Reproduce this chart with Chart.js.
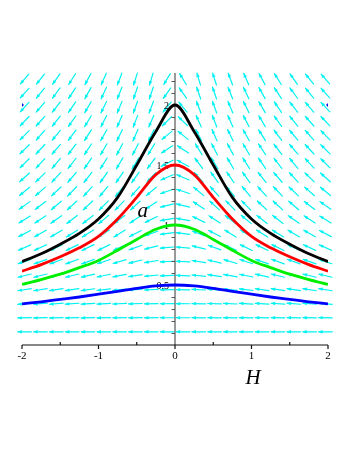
<!DOCTYPE html>
<html>
<head>
<meta charset="utf-8">
<script src="https://cdn.jsdelivr.net/npm/chart.js@4.4.0/dist/chart.umd.min.js"></script>
<style>
html,body{margin:0;padding:0;background:#fff;}
canvas{display:block;}
</style>
</head>
<body>
<canvas id="c" width="357" height="462"></canvas>
<script>
// ---- curve data ----
const hValues = [-2,-1.75,-1.5,-1.25,-1,-0.75,-0.5,-0.25,0,0.25,0.5,0.75,1,1.25,1.5,1.75,2];
const curveBlack = [0.695,0.76,0.84,0.93,1.05,1.23,1.50,1.78,2.0,1.78,1.50,1.23,1.05,0.93,0.84,0.76,0.695];
const curveRed   = [0.615,0.67,0.735,0.81,0.905,1.05,1.23,1.42,1.5,1.42,1.23,1.05,0.905,0.81,0.735,0.67,0.615];
const curveGreen = [0.505,0.545,0.59,0.645,0.705,0.79,0.88,0.965,1.0,0.965,0.88,0.79,0.705,0.645,0.59,0.545,0.505];
const curveBlue  = [0.343,0.36,0.38,0.40,0.423,0.447,0.472,0.492,0.5,0.492,0.472,0.447,0.423,0.40,0.38,0.36,0.343];
const markerH = [-2, 2];
const markerA = [2.0, 2.0];

// ---- direction field grid ----
const fieldH = [-1.966,-1.759,-1.552,-1.345,-1.138,-0.931,-0.724,-0.517,-0.310,-0.104,
                0.104,0.310,0.517,0.724,0.931,1.138,1.345,1.552,1.759,1.966];
const fieldA = [0.110,0.227,0.344,0.461,0.578,0.695,0.812,0.929,1.046,1.163,
                1.280,1.397,1.514,1.631,1.748,1.865,1.982,2.099,2.216];
// on-screen tilt (degrees) for the columns H = 0.104 ... 1.966 (mirrored for H < 0), one row per fieldA
const fieldTiltDeg = [
  [0,0,0,0,0,0,0,0,0,0],
  [0,0.4,0.6,0.9,1.1,1.3,1.5,1.7,1.8,1.9],
  [0.4,1.3,2.1,2.8,3.4,4,4.4,4.8,5.1,5.4],
  [1,3,4.7,6.2,7.5,8.4,9.1,9.6,9.8,10],
  [2,6,9,11,13,14,15,15,15,15],
  [3,10,15,18,20,21,22,22,21,20],
  [5,15,22,26,28,28,28,28,27,26],
  [8,22,29,34,35,35,34,33,32,30],
  [11,28,36,40,42,41,40,38,36,34],
  [15,36,45,48,48,46,45,43,40,38],
  [20,43,51,53,53,51,49,46,44,42],
  [25,50,57,58,57,55,52,50,47,45],
  [30,56,61,62,60,58,55,53,50,48],
  [36,61,65,64,62,59,55,52,50,47],
  [42,65,68,66,63,60,56,53,51,48],
  [47,68,71,68,65,61,57,54,51,49],
  [53,71,72,69,66,62,58,55,52,50],
  [57,73,73,70,67,63,59,56,53,51],
  [61,75,74,71,68,64,60,57,54,52]
];

const xTicks = [-2,-1,0,1,2];
const xTickLabels = ["-2","-1","0","1","2"];
const xMinorTicks = [-1.5,-0.5,0.5,1.5];
const yTicks = [0.5,1,1.5,2];
const yTickLabels = ["0.5","1","1.5","2"];
const yMinorTicks = [0.1,0.2,0.3,0.4,0.6,0.7,0.8,0.9,1.1,1.2,1.3,1.4,1.6,1.7,1.8,1.9,2.1,2.2];

function pts(ys){ return hValues.map((h,i)=>({x:h,y:ys[i]})); }

const fieldPlugin = {
  id:'field',
  beforeDatasetsDraw(chart){
    const ctx = chart.ctx, xs = chart.scales.x, ys = chart.scales.y;
    ctx.save();
    // arrows
    ctx.strokeStyle = '#00f2f2';
    ctx.fillStyle = '#00f2f2';
    ctx.lineWidth = 1.2;
    ctx.lineCap = 'round';
    for (let j=0;j<fieldA.length;j++){
      for (let i=0;i<fieldH.length;i++){
        const h = fieldH[i];
        const col = h>0 ? i-10 : 9-i;
        const th = fieldTiltDeg[j][col]*Math.PI/180;
        const cx = xs.getPixelForValue(h), cy = ys.getPixelForValue(fieldA[j]);
        const sy = h>0 ? -1 : 1;
        const dx = -6.8*Math.cos(th), dy = sy*6.2*Math.sin(th);
        const tx = cx-dx, ty = cy-dy, hx = cx+dx, hy = cy+dy;
        ctx.beginPath(); ctx.moveTo(tx,ty); ctx.lineTo(hx,hy); ctx.stroke();
        const L = Math.hypot(dx,dy), ux = dx/L, uy = dy/L;
        ctx.beginPath();
        ctx.moveTo(hx+ux*0.4,hy+uy*0.4);
        ctx.lineTo(hx-ux*4-uy*1.7, hy-uy*4+ux*1.7);
        ctx.lineTo(hx-ux*4+uy*1.7, hy-uy*4-ux*1.7);
        ctx.closePath(); ctx.fill();
      }
    }
    // axes
    const x0 = xs.getPixelForValue(0), y0 = ys.getPixelForValue(0);
    const xl = xs.getPixelForValue(-2), xr = xs.getPixelForValue(2);
    const yt = ys.getPixelForValue(2.25);
    ctx.lineCap = 'butt';
    ctx.strokeStyle = '#555';
    ctx.lineWidth = 1.2;
    ctx.beginPath(); ctx.moveTo(x0, y0); ctx.lineTo(x0, yt-2); ctx.stroke();
    ctx.beginPath();
    yMinorTicks.concat(yTicks).forEach(v=>{
      const py = Math.round(ys.getPixelForValue(v))+0.5;
      ctx.moveTo(x0-3.5,py); ctx.lineTo(x0,py);
    });
    ctx.stroke();
    ctx.strokeStyle = '#111';
    ctx.beginPath(); ctx.moveTo(xl, y0); ctx.lineTo(xr, y0); ctx.stroke();
    ctx.beginPath();
    xTicks.forEach(v=>{ const px = xs.getPixelForValue(v); ctx.moveTo(px,y0); ctx.lineTo(px,y0+4); });
    xMinorTicks.forEach(v=>{ const px = xs.getPixelForValue(v); ctx.moveTo(px,y0); ctx.lineTo(px,y0-3); });
    ctx.stroke();
    // tick labels
    ctx.fillStyle = '#000';
    ctx.font = '11px "Liberation Serif"';
    ctx.textAlign = 'center'; ctx.textBaseline = 'middle';
    xTicks.forEach((v,k)=>{ ctx.fillText(xTickLabels[k], xs.getPixelForValue(v), y0+11); });
    ctx.font = '10px "Liberation Serif"';
    ctx.textAlign = 'right';
    yTicks.forEach((v,k)=>{ ctx.fillText(yTickLabels[k], x0-6, ys.getPixelForValue(v)+1); });
    // axis titles
    ctx.font = 'italic 21px "Liberation Serif"';
    ctx.textAlign = 'center';
    ctx.fillText('H', xs.getPixelForValue(1.02), y0+33);
    ctx.fillText('a', xs.getPixelForValue(-0.42), ys.getPixelForValue(1.11));
    ctx.restore();
  }
};

new Chart(document.getElementById('c'), {
  type:'line',
  data:{
    datasets:[
      {data:pts(curveBlue), borderColor:'#0000ff', borderWidth:2.8, pointRadius:0, cubicInterpolationMode:'monotone', fill:false},
      {data:pts(curveGreen), borderColor:'#00ee00', borderWidth:2.8, pointRadius:0, cubicInterpolationMode:'monotone', fill:false},
      {data:pts(curveRed), borderColor:'#ff0000', borderWidth:2.8, pointRadius:0, cubicInterpolationMode:'monotone', fill:false},
      {data:pts(curveBlack), borderColor:'#000000', borderWidth:2.8, pointRadius:0, cubicInterpolationMode:'monotone', fill:false},
      {type:'scatter', data:markerH.map((h,i)=>({x:h,y:markerA[i]})), backgroundColor:'#1010ee', borderColor:'#1010ee', pointRadius:1.4, pointStyle:'rect', showLine:false}
    ]
  },
  options:{
    responsive:false,
    animation:false,
    events:[],
    layout:{padding:{left:22,right:29,top:75,bottom:117}},
    plugins:{legend:{display:false}, tooltip:{enabled:false}},
    scales:{
      x:{type:'linear', min:-2, max:2, display:false},
      y:{type:'linear', min:0, max:2.25, display:false}
    }
  },
  plugins:[fieldPlugin]
});
</script>
</body>
</html>
